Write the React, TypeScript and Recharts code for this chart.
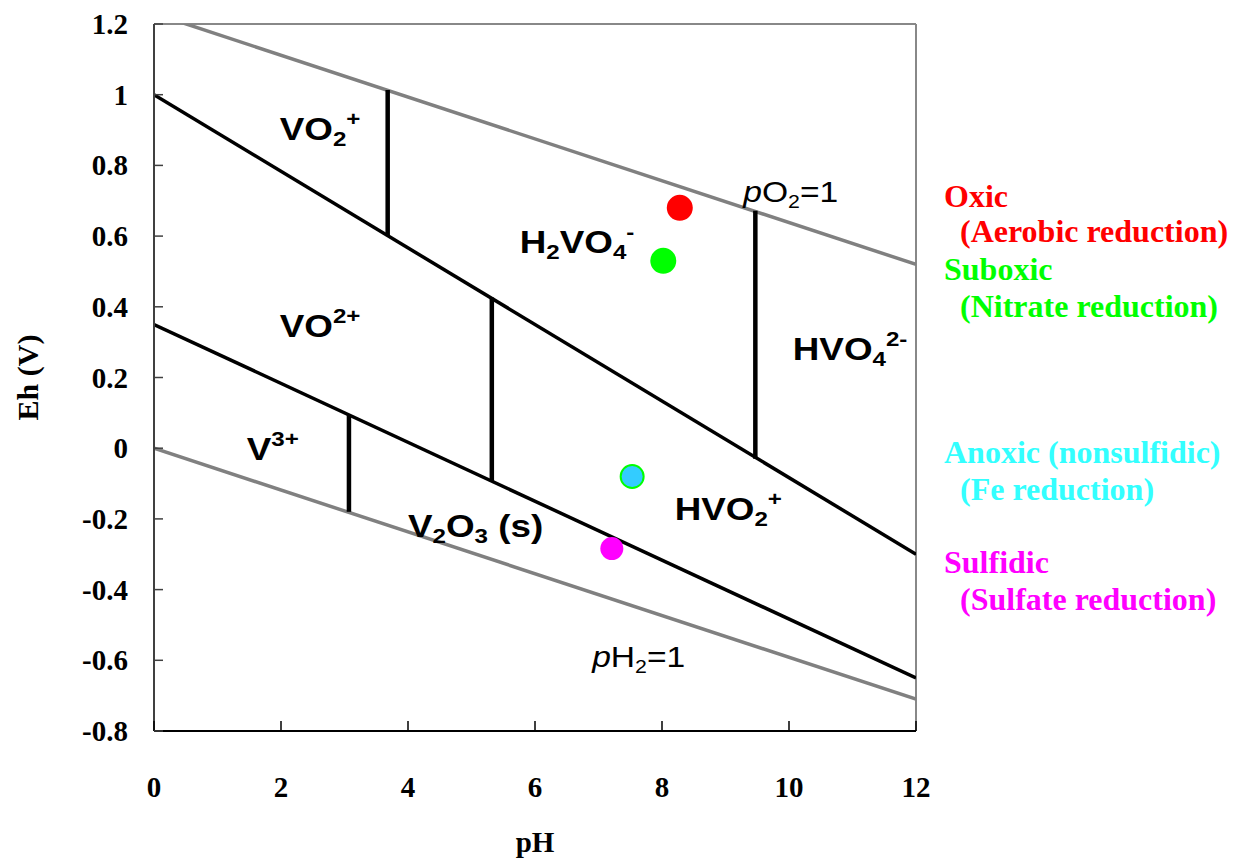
import {
  ComposedChart, Line, Scatter, XAxis, YAxis, ReferenceLine, ReferenceDot,
} from "recharts";

const phTicks = [0, 2, 4, 6, 8, 10, 12];
const ehTicks = [-0.8, -0.6, -0.4, -0.2, 0, 0.2, 0.4, 0.6, 0.8, 1, 1.2];

// water stability limits
const o2Line = [{ ph: 0, eh: 1.23 }, { ph: 12, eh: 0.52 }];
const h2Line = [{ ph: 0, eh: 0 }, { ph: 12, eh: -0.71 }];

// sloped redox boundaries
const upperBoundary = [{ ph: 0, eh: 1.0 }, { ph: 12, eh: -0.3 }];
const lowerBoundary = [{ ph: 0, eh: 0.35 }, { ph: 12, eh: -0.65 }];

// vertical (acid/base) boundaries
const verticals = [
  { ph: 3.68, lo: 0.6, hi: 1.013 },
  { ph: 5.32, lo: -0.093, hi: 0.426 },
  { ph: 3.07, lo: -0.18, hi: 0.094 },
  { ph: 9.47, lo: -0.03, hi: 0.672 },
];

// natural water samples
const oxic = [{ ph: 8.28, eh: 0.68 }];
const suboxic = [{ ph: 8.02, eh: 0.53 }];
const anoxic = [{ ph: 7.53, eh: -0.08 }];
const sulfidic = [{ ph: 7.21, eh: -0.284 }];

type Part = [string, ("sub" | "sup" | "it" | "")?];

const species: { ph: number; eh: number; parts: Part[]; plain?: boolean }[] = [
  { ph: 1.98, eh: 0.872, parts: [["VO"], ["2", "sub"], ["+", "sup"]] },
  { ph: 5.76, eh: 0.552, parts: [["H"], ["2", "sub"], ["VO"], ["4", "sub"], ["-", "sup"]] },
  { ph: 1.98, eh: 0.314, parts: [["VO"], ["2+", "sup"]] },
  { ph: 10.06, eh: 0.249, parts: [["HVO"], ["4", "sub"], ["2-", "sup"]] },
  { ph: 1.46, eh: -0.034, parts: [["V"], ["3+", "sup"]] },
  { ph: 4.0, eh: -0.252, parts: [["V"], ["2", "sub"], ["O"], ["3", "sub"], [" (s)"]] },
  { ph: 8.2, eh: -0.204, parts: [["HVO"], ["2", "sub"], ["+", "sup"]] },
  { ph: 9.28, eh: 0.696, parts: [["p", "it"], ["O"], ["2", "sub"], ["=1"]], plain: true },
  { ph: 6.9, eh: -0.62, parts: [["p", "it"], ["H"], ["2", "sub"], ["=1"]], plain: true },
];

const legend = [
  { text: "Oxic", x: 944, y: 207, color: "#ff0000" },
  { text: "(Aerobic reduction)", x: 960, y: 242, color: "#ff0000" },
  { text: "Suboxic", x: 944, y: 280, color: "#00ff00" },
  { text: "(Nitrate reduction)", x: 960, y: 317, color: "#00ff00" },
  { text: "Anoxic (nonsulfidic)", x: 944, y: 463, color: "#33ffff" },
  { text: "(Fe reduction)", x: 960, y: 500, color: "#33ffff" },
  { text: "Sulfidic", x: 944, y: 573, color: "#ff00ff" },
  { text: "(Sulfate reduction)", x: 960, y: 610, color: "#ff00ff" },
];

const serif = "'Liberation Serif', 'Times New Roman', serif";
const sans = "'Liberation Sans', Arial, sans-serif";

const fmtEh = (v: number) => {
  const r = Number(v.toFixed(1));
  return r === 0 ? "0" : String(r);
};

function EhTick({ x, y, payload }: any) {
  return (
    <g>
      <line x1={x} x2={x + 9} y1={y} y2={y} stroke="#404040" strokeWidth={1.5} />
      <text x={x - 26} y={y + 10} textAnchor="end" fontFamily={serif} fontWeight="bold" fontSize={29} fill="#000">
        {fmtEh(payload.value)}
      </text>
    </g>
  );
}

function PhTick({ x, y, payload }: any) {
  return (
    <g>
      <line x1={x} x2={x} y1={y} y2={y - 10} stroke="#000" strokeWidth={1.5} />
      <text x={x} y={y + 66} textAnchor="middle" fontFamily={serif} fontWeight="bold" fontSize={29} fill="#000">
        {payload.value}
      </text>
    </g>
  );
}

function SpeciesLabel({ cx, cy, parts, plain }: any) {
  const size = plain ? 30 : 32;
  const small = plain ? 19 : 21;
  const sx = plain ? 1.12 : 1.15;
  let shift = 0;
  return (
    <g transform={`translate(${cx},${cy}) scale(${sx},1)`}>
      <text x={0} y={0} fontFamily={sans} fontWeight={plain ? "normal" : "bold"} fontSize={size} fill="#000">
        {parts.map(([t, kind]: Part, i: number) => {
          const target = kind === "sub" ? 6 : kind === "sup" ? -14 : 0;
          const dy = target - shift;
          shift = target;
          const isSmall = kind === "sub" || kind === "sup";
          return (
            <tspan key={i} dy={dy} fontSize={isSmall ? small : size} fontStyle={kind === "it" ? "italic" : "normal"}>
              {t}
            </tspan>
          );
        })}
      </text>
    </g>
  );
}

const dot = (fill: string, r: number, stroke?: string) => (p: any) => (
  <circle cx={p.cx} cy={p.cy} r={r} fill={fill} stroke={stroke ?? "none"} strokeWidth={stroke ? 2 : 0} />
);

export default function App() {
  return (
    <div style={{ position: "absolute", left: 0, top: 0, width: 1245, height: 859, background: "#fff" }}>
      <ComposedChart width={1245} height={859} margin={{ top: 24, right: 329, bottom: 0, left: 0 }}>
        <XAxis
          type="number"
          dataKey="ph"
          domain={[0, 12]}
          ticks={phTicks}
          allowDataOverflow
          height={128}
          tickSize={0}
          tickMargin={0}
          tickLine={false}
          tick={<PhTick />}
          axisLine={{ stroke: "#000", strokeWidth: 2 }}
          label={{
            content: ({ viewBox }: any) => (
              <text x={viewBox.x + viewBox.width / 2} y={852} textAnchor="middle" fontFamily={serif} fontWeight="bold" fontSize={29}>
                pH
              </text>
            ),
          }}
        />
        <YAxis
          type="number"
          dataKey="eh"
          domain={[-0.8, 1.2]}
          ticks={ehTicks}
          allowDataOverflow
          width={154}
          tickSize={0}
          tickMargin={0}
          tickLine={false}
          tick={<EhTick />}
          axisLine={{ stroke: "#404040", strokeWidth: 2 }}
          label={{
            content: ({ viewBox }: any) => (
              <text
                transform={`translate(38,${viewBox.y + viewBox.height / 2}) rotate(-90)`}
                textAnchor="middle"
                fontFamily={serif}
                fontWeight="bold"
                fontSize={30}
              >
                Eh (V)
              </text>
            ),
          }}
        />
        <ReferenceLine y={1.2} stroke="#888" strokeWidth={2} />
        <ReferenceLine x={12} stroke="#888" strokeWidth={2} />

        <Line data={o2Line} dataKey="eh" type="linear" stroke="#808080" strokeWidth={3.5} dot={false} isAnimationActive={false} />
        <Line data={h2Line} dataKey="eh" type="linear" stroke="#808080" strokeWidth={3.5} dot={false} isAnimationActive={false} />
        <Line data={upperBoundary} dataKey="eh" type="linear" stroke="#000" strokeWidth={3.5} dot={false} isAnimationActive={false} />
        <Line data={lowerBoundary} dataKey="eh" type="linear" stroke="#000" strokeWidth={3.5} dot={false} isAnimationActive={false} />

        {verticals.map((v, i) => (
          <ReferenceLine
            key={`v${i}`}
            segment={[{ x: v.ph, y: v.lo }, { x: v.ph, y: v.hi }]}
            stroke="#000"
            strokeWidth={4.5}
          />
        ))}

        {species.map((s, i) => (
          <ReferenceDot
            key={`s${i}`}
            x={s.ph}
            y={s.eh}
            r={0}
            ifOverflow="visible"
            shape={(p: any) => <SpeciesLabel cx={p.cx} cy={p.cy} parts={s.parts} plain={s.plain} />}
          />
        ))}

        <Scatter data={oxic} dataKey="eh" shape={dot("#ff0000", 13)} isAnimationActive={false} />
        <Scatter data={suboxic} dataKey="eh" shape={dot("#00ff00", 13)} isAnimationActive={false} />
        <Scatter data={anoxic} dataKey="eh" shape={dot("#33ccff", 11.5, "#00ff00")} isAnimationActive={false} />
        <Scatter data={sulfidic} dataKey="eh" shape={dot("#ff00ff", 11.5)} isAnimationActive={false} />
      </ComposedChart>

      <svg width={1245} height={859} style={{ position: "absolute", left: 0, top: 0, pointerEvents: "none" }}>
        {legend.map((l, i) => (
          <text key={i} x={l.x} y={l.y} fill={l.color} fontFamily={serif} fontWeight="bold" fontSize={32}>
            {l.text}
          </text>
        ))}
      </svg>
    </div>
  );
}
